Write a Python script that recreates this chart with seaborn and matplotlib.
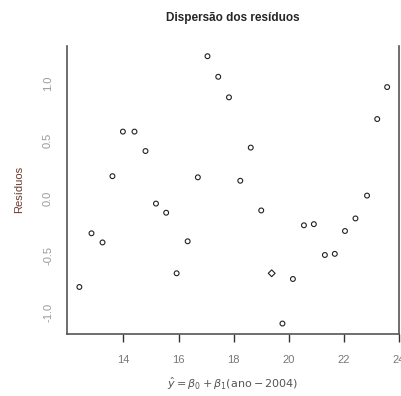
import numpy as np
import pandas as pd
import seaborn as sns
import matplotlib
matplotlib.use("Agg")
import matplotlib.pyplot as plt

# valores ajustados (eixo x) e resíduos (eixo y)
ajustados = [12.40, 12.84, 13.24, 13.60, 13.98, 14.40, 14.80, 15.18, 15.55, 15.93,
             16.33, 16.70, 17.05, 17.44, 17.83, 18.24, 18.62, 19.00, 19.38, 19.77,
             20.15, 20.55, 20.91, 21.31, 21.67, 22.04, 22.42, 22.84, 23.21, 23.57]
residuos = [-0.78, -0.31, -0.39, 0.19, 0.58, 0.58, 0.41, -0.05, -0.13, -0.66,
            -0.38, 0.18, 1.24, 1.06, 0.88, 0.15, 0.44, -0.11, -0.66, -1.10,
            -0.71, -0.24, -0.23, -0.50, -0.49, -0.29, -0.18, 0.02, 0.69, 0.97]
marcador = ["o"] * 18 + ["D"] + ["o"] * 11

xticks = [14, 16, 18, 20, 22, 24]
yticks = [-1.0, -0.5, 0.0, 0.5, 1.0]
ytick_labels = ["-1.0", "-0.5", "0.0", "0.5", "1.0"]

data = pd.DataFrame({"ajustado": ajustados, "residuo": residuos, "marca": marcador})

sns.set_style("white")
plt.rcParams['font.family'] = ['Liberation Sans', 'DejaVu Sans']

fig = plt.figure(figsize=(4.01, 3.96), dpi=100)
ax = fig.add_axes([0.167, 0.157, 0.828, 0.727])

sns.scatterplot(data=data, x="ajustado", y="residuo", style="marca",
                markers={"o": "o", "D": "D"}, s=12, facecolor="none",
                edgecolor="#222222", linewidth=0.8, legend=False, ax=ax)

ax.set_xlim(11.95, 23.98)
ax.set_ylim(-1.19, 1.33)
ax.set_xticks(xticks)
ax.set_xticklabels([str(t) for t in xticks], color="#777777", fontsize=8)
ax.set_yticks(yticks)
ax.set_yticklabels(ytick_labels, rotation=90, va="center", color="#999999", fontsize=8)
ax.tick_params(axis="x", length=6, width=1, color="#333333", pad=9, direction="out", bottom=True)
ax.tick_params(axis="y", length=0, pad=10)

for side in ["left", "right", "bottom"]:
    ax.spines[side].set_color("#555555")
    ax.spines[side].set_linewidth(1.2)
ax.spines["top"].set_visible(False)

ax.set_xlabel(r"$\hat{y} = \beta_0 + \beta_1(\mathrm{ano} - 2004)$", color="#555555",
              fontsize=8, labelpad=8)
ax.set_ylabel("Resíduos", color="#6b3a2a", fontsize=8, labelpad=14)
ax.set_title("Dispersão dos resíduos", fontsize=8.5, fontweight="bold", pad=18)

fig.savefig("out.png", dpi=100)
